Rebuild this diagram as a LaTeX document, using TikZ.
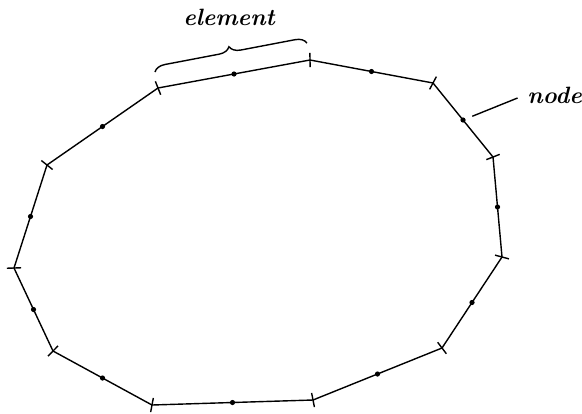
\documentclass[tikz,border=0pt]{standalone}
\usepackage{tikz}
\usetikzlibrary{calc, decorations.pathreplacing}

\begin{document}
\begin{tikzpicture}[
      x=0.5pt, y=-0.5pt,
      font=\fontsize{11.8}{14}\selectfont\bfseries\itshape,
      edge/.style={line width=0.7pt},
      tick/.style={line width=0.7pt},
      dot/.style={fill=black},
      lab/.style={inner sep=1pt}
    ]
    \useasboundingbox (0,0) rectangle (582,413);
    %% corners of the ring
    \coordinate (vA) at (158,88);
    \coordinate (vB) at (310,60);
    \coordinate (vC) at (433,83);
    \coordinate (vD) at (493,157);
    \coordinate (vE) at (502,257);
    \coordinate (vF) at (442,348);
    \coordinate (vG) at (313,400);
    \coordinate (vH) at (152,405);
    \coordinate (vI) at (53,351);
    \coordinate (vJ) at (14,268);
    \coordinate (vK) at (47,165);
    \draw[edge] (vA) -- (vB) -- (vC) -- (vD) -- (vE) -- (vF) -- (vG)
      -- (vH) -- (vI) -- (vJ) -- (vK) -- cycle;
    %% ticks at the corners, dots halfway
    \foreach \p/\v/\n in {vK/vA/vB, vA/vB/vC, vB/vC/vD, vC/vD/vE, vD/vE/vF,
        vE/vF/vG, vF/vG/vH, vG/vH/vI, vH/vI/vJ, vI/vJ/vK, vJ/vK/vA} {
      \draw[tick] ($(\v)!3.6pt!90:($(\v)+(\n)-(\p)$)$)
        -- ($(\v)!3.6pt!-90:($(\v)+(\n)-(\p)$)$);
      \fill[dot] ($(\v)!0.5!(\n)$) circle (1.3pt);
    }
    %% labels
    \coordinate (nd) at ($(vC)!0.5!(vD)$);
    \node[lab, anchor=west] (nodelab) at (525,95) {node};
    \draw[edge, shorten <=5pt, shorten >=4pt] (nd) -- (nodelab.west);
    \draw[edge, decorate, decoration={brace, amplitude=5.5pt}] (155,72) -- (307,43);
    \node[lab] (elemlab) at (229,17) {element};
  \end{tikzpicture}
\end{document}
